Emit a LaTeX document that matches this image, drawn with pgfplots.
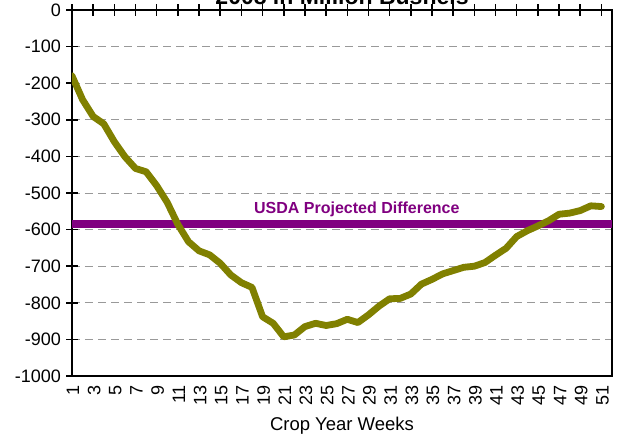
\documentclass[border=0pt]{standalone}
\usepackage{fontspec}
\setmainfont{Liberation Sans}
\usepackage{pgfplots}
\pgfplotsset{compat=1.18}
\definecolor{olivel}{HTML}{808000}
\definecolor{purp}{HTML}{800080}
\begin{document}
\begin{tikzpicture}
\begin{axis}[
  name=ax,
  scale only axis, width=540pt, height=366pt,
  xmin=1, xmax=52, ymin=-1000, ymax=0,
  xtick={1,3,...,51},
  xticklabels={1,3,5,7,9,11,13,15,17,19,21,23,25,27,29,31,33,35,37,39,41,43,45,47,49,51},
  ytick={-1000,-900,-800,-700,-600,-500,-400,-300,-200,-100,0},
  yticklabels={-1000,-900,-800,-700,-600,-500,-400,-300,-200,-100,0},
  xtick pos=upper, xticklabel pos=lower,
  ytick pos=left,
  tick align=center,
  major tick length=11pt,
  tick style={black, line width=1.5pt},
  axis line style={black, line width=1.8pt},
  ymajorgrids,
  grid style={dash pattern=on 8pt off 5pt, gray!80, line width=1pt},
  xticklabel style={rotate=90, anchor=east, yshift=-1pt, font=\fontsize{18}{18}\selectfont},
  yticklabel style={anchor=east, xshift=-2pt, font=\fontsize{18}{18}\selectfont},
  xlabel={Crop Year Weeks},
  xlabel style={at={(axis description cs:0.5,0)}, anchor=base, yshift=-54pt, font=\fontsize{18.5}{18.5}\selectfont},
]
\addplot[purp, line width=8pt, line cap=butt] coordinates {(1,-585) (52,-585)};
\addplot[olivel, line width=6.8pt, line join=round, line cap=round] coordinates {
(1,-180) (2,-245) (3,-291) (4,-311) (5,-360) (6,-401) (7,-433) (8,-442)
(9,-480) (10,-526) (11,-586) (12,-633) (13,-658) (14,-669) (15,-692)
(16,-724) (17,-745) (18,-758) (19,-838) (20,-856) (21,-893) (22,-888)
(23,-865) (24,-856) (25,-862) (26,-857) (27,-845) (28,-854) (29,-833)
(30,-809) (31,-789) (32,-788) (33,-776) (34,-749) (35,-736) (36,-721)
(37,-712) (38,-703) (39,-700) (40,-690) (41,-670) (42,-651) (43,-619)
(44,-603) (45,-590) (46,-576) (47,-558) (48,-555) (49,-548) (50,-535)
(51,-537)};
\node[purp, font=\bfseries\fontsize{16}{16}\selectfont] at (axis cs:27.9,-545) {USDA Projected Difference};
\end{axis}
\node[font=\bfseries\fontsize{23}{23}\selectfont, anchor=base] at ([yshift=5.5pt]ax.north) {2008 in Million Bushels};
\pgfresetboundingbox
\path[use as bounding box] ([xshift=-72pt,yshift=-61pt]ax.south west) rectangle ([xshift=5pt,yshift=10pt]ax.north east);
\end{tikzpicture}
\end{document}
